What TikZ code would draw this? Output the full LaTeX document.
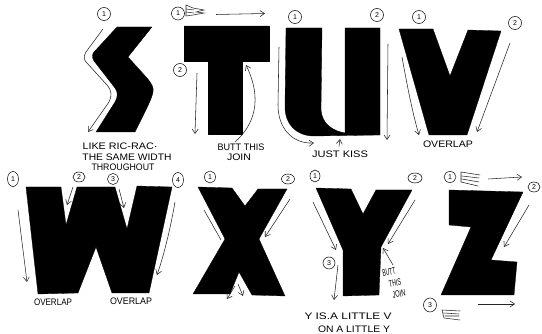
\documentclass[tikz,border=0pt]{standalone}
\usepackage{graphicx}
\usepackage{fontspec}
\setmainfont{Liberation Sans}
\usetikzlibrary{arrows.meta,shapes.geometric}
\newcommand{\hw}[2]{\resizebox{#1pt}{6.6pt}{#2}}
\tikzset{
  letter/.style={fill=black,draw=black,line width=0.3pt,line join=round},
  num/.style={draw=black,ellipse,line width=0.5pt,inner sep=0pt,minimum width=13pt,minimum height=13pt,font=\fontsize{7}{7}\selectfont},
  hand/.style={font=\fontsize{8}{8}\selectfont,inner sep=0pt},
  arr/.style={draw=black!85,line width=0.55pt,-{Straight Barb[length=4.5pt,width=6pt]}},
  plain/.style={draw=black!85,line width=0.55pt},
  brush/.style={draw=black!85,line width=0.55pt,line cap=round},
}
\begin{document}
\begin{tikzpicture}[x=1pt,y=-1pt]
\useasboundingbox[fill=white] (0,0) rectangle (542,334);
% S
\fill[letter] (117,27) -- (152,27) -- (128,57) -- (147,78) .. controls (152,84) and (154,88) .. (153,92) .. controls (152,98) and (148,106) .. (135,132) -- (96,132) -- (115,102) .. controls (118,97) and (118,92) .. (115,88) -- (94,61) .. controls (92,58) and (92,54) .. (94,52) -- cycle;
\node[num] (s1) at (104,14) {1};
\coordinate (sa) at (103,29); \coordinate (sb) at (88,132);
\draw[arr] (sa) -- (86,52) .. controls (83,57) and (84,60) .. (87,63) -- (107,85) .. controls (112,91) and (112,96) .. (109,102) -- (sb);
\node[hand] (st1) at (120,146) {\hw{75}{LIKE RIC-RAC·}};
\node[hand] (st2) at (127,157) {\hw{89}{THE SAME WIDTH}};
\node[hand] (st3) at (123,167) {\hw{63}{THROUGHOUT}};
% T
\fill[letter] (184,26) -- (269,26) -- (269,61) -- (242,61) -- (242,134) -- (208,134) -- (208,61) -- (184,61) -- cycle;
\node[num] (t1) at (178,13.5) {1};
\node[num] (t2) at (180,70) {2};
\draw[brush] (186,5) -- (193,8) -- (204,10) -- (196,12) -- (204,13) -- (193,15) -- (186,16) (186,5) -- (186,16) (186,9) -- (194,10) (186,12) -- (194,13);
\coordinate (ta) at (216,14.5); \coordinate (tb) at (265,13.5);
\draw[arr] (ta) -- (tb);
\coordinate (tc) at (197,73); \coordinate (td) at (195,134);
\draw[arr] (tc) -- (td);
\coordinate (te) at (235,142); \coordinate (tf) at (246,65);
\draw[arr] (te) .. controls (254,125) and (263,100) .. (tf);
\node[hand] (tt1) at (241,147) {\hw{47}{BUTT THIS}};
\node[hand] (tt2) at (239,157) {\hw{24}{JOIN}};
% U
\fill[letter] (286,28) -- (322,28) -- (321,110) .. controls (322,124) and (333,131) .. (345,133) -- (345,28) -- (380,28) -- (380,135) -- (314,136) .. controls (296,136) and (285,124) .. (285,107) -- cycle;
\node[num] (u1) at (295,17) {1};
\node[num] (u2) at (377,15) {2};
\coordinate (ua) at (279,47); \coordinate (ub) at (314,143);
\draw[arr] (ua) -- (278,105) .. controls (278,128) and (292,144) .. (ub);
\coordinate (uc) at (388,44); \coordinate (ud) at (387,140);
\draw[arr] (uc) -- (ud);
\coordinate (ue) at (339,146.5); \coordinate (uf) at (340,139);
\draw[arr] (ue) -- (uf);
\node[hand] (ut) at (340,154) {\hw{56}{JUST KISS}};
% V
\fill[letter] (399,29) -- (433,29) -- (450,76) -- (468,30) -- (501,31) -- (467,135) -- (429,135) -- cycle;
\node[num] (v1) at (419,17) {1};
\node[num] (v2) at (515,23) {2};
\coordinate (va) at (402,57); \coordinate (vb) at (419,135);
\draw[arr] (va) .. controls (407,85) and (413,115) .. (vb);
\coordinate (vc) at (510,43); \coordinate (vd) at (477,132);
\draw[arr] (vc) -- (vd);
\node[hand] (vt) at (448,144) {\hw{50}{OVERLAP}};
% W
\fill[letter] (26,187) -- (61,187) -- (66,225) -- (77,187) -- (115,187) -- (127,229) -- (137,186) -- (172,187) -- (149,293) -- (112,293) -- (96,247) -- (78,293) -- (38,294) -- cycle;
\node[num,minimum width=11pt,minimum height=15pt] (w1) at (13,179) {1};
\node[num,minimum width=12pt,minimum height=10pt] (w2) at (79,177) {2};
\node[num,minimum width=11pt,minimum height=11pt] (w3) at (113,179) {3};
\node[num,minimum width=11pt,minimum height=15pt] (w4) at (178,180) {4};
\coordinate (wa) at (18,210); \coordinate (wb) at (27,282);
\draw[arr] (wa) -- (wb);
\coordinate (wc) at (73,187); \coordinate (wd) at (67,205);
\draw[arr] (wc) -- (wd);
\coordinate (we) at (119,189); \coordinate (wf) at (124,208);
\draw[arr] (we) -- (wf);
\coordinate (wg) at (175,202); \coordinate (wh) at (157,275);
\draw[arr] (wg) .. controls (171,225) and (165,252) .. (wh);
\node[hand] (wt1) at (53,302) {\hw{38}{OVERLAP}};
\node[hand] (wt2) at (131,301) {\hw{42}{OVERLAP}};
% X
\fill[letter] (198,187) -- (232,188) -- (245,206) -- (258,189) -- (287,189) -- (259,239) -- (285,296) -- (252,295) -- (239,272) -- (230,294) -- (193,294) -- (225,239) -- cycle;
\node[num,minimum width=11pt,minimum height=12pt] (x1) at (210,177) {1};
\node[num,minimum width=13pt,minimum height=10pt] (x2) at (288,179) {2};
\coordinate (xa) at (204,210); \coordinate (xb) at (221,240);
\draw[plain] (xa) -- (xb);
\coordinate (xc) at (290,199); \coordinate (xd) at (265,237);
\draw[arr] (xc) -- (xd);
\coordinate (xe) at (235,286); \coordinate (xf) at (227,299);
\draw[arr] (xe) -- (xf);
\coordinate (xg) at (238,284); \coordinate (xh) at (243,296);
\draw[arr] (xg) -- (xh);
% Y
\fill[letter] (316,188) -- (351,189) -- (363,214) -- (376,190) -- (412,190) -- (381,247) -- (379,295) -- (343,296) -- (343,250) -- cycle;
\node[num,minimum width=10pt,minimum height=12pt] (y1) at (315,176) {1};
\node[num,minimum width=14pt,minimum height=10pt] (y2) at (415,178) {2};
\node[num,minimum width=12pt,minimum height=12pt] (y3) at (329,263) {3};
\coordinate (ya) at (313,202); \coordinate (yb) at (336,250);
\draw[arr] (ya) -- (yb);
\coordinate (yc) at (415,200); \coordinate (yd) at (388,244);
\draw[arr] (yc) -- (yd);
\coordinate (ye) at (338,265); \coordinate (yf) at (334,300);
\draw[arr] (ye) -- (yf);
\coordinate (yg) at (393,265); \coordinate (yh) at (383,248);
\draw[arr] (yg) -- (yh);
\node[hand,rotate=10] (yt1) at (389,272) {\hw{13}{BUTT}};
\node[hand,rotate=10] (yt2) at (395,283) {\hw{12}{THIS}};
\node[hand,rotate=10] (yt3) at (399,294) {\hw{13}{JOIN}};
\node[hand] (yt4) at (348,316) {\hw{87}{Y IS.A LITTLE V}};
\node[hand] (yt5) at (354,329) {\hw{72}{ON A LITTLE Y}};
% Z
\fill[letter] (449,190) -- (523,192) -- (491,260) -- (517,262) -- (514,295) -- (441,295) -- (471,227) -- (449,225) -- cycle;
\node[num,minimum width=12pt,minimum height=11pt] (z1) at (450,177) {1};
\node[num,minimum width=12pt,minimum height=10pt] (z2) at (534,187) {2};
\node[num,minimum width=13pt,minimum height=14pt] (z3) at (430,305) {3};
\draw[brush] (461,172) -- (461,182) (461,172) -- (480,175) (462,176) -- (479,178) (462,179) -- (479,182) (461,182) -- (478,186);
\draw[brush] (442,310) -- (444,318) (442,310) -- (460,311) (444,313) -- (459,314) (445,316) -- (459,316) (444,318) -- (460,320);
\coordinate (za) at (488,179); \coordinate (zb) at (522,177);
\draw[arr] (za) -- (zb);
\coordinate (zc) at (529,205); \coordinate (zd) at (504,247);
\draw[arr] (zc) -- (zd);
\coordinate (ze) at (478,304); \coordinate (zf) at (515,304);
\draw[arr] (ze) -- (zf);
\end{tikzpicture}
\end{document}
